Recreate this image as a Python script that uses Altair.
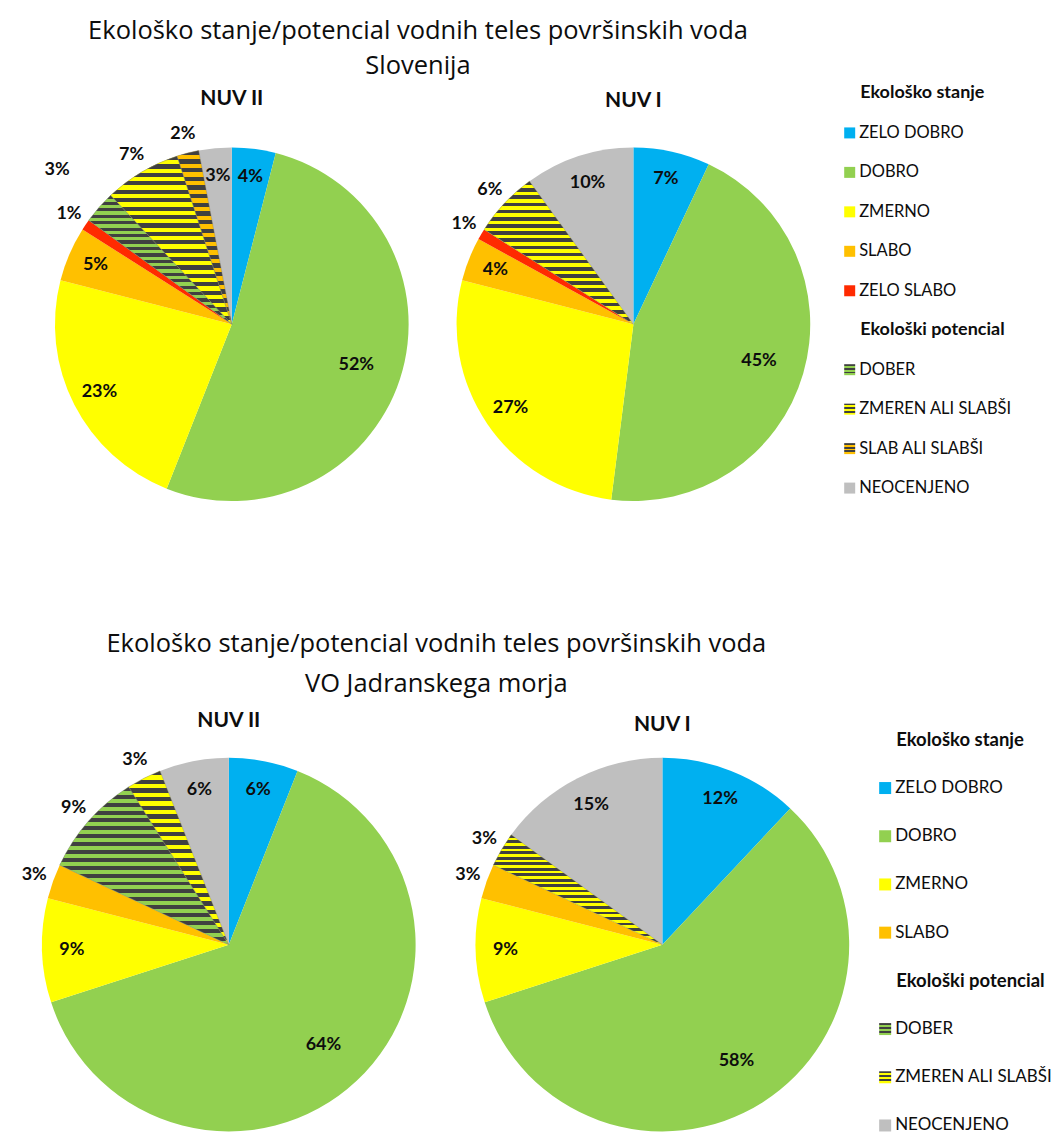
import altair as alt
import pandas as pd

# ---------------- data ----------------
categories = ["ZELO DOBRO", "DOBRO", "ZMERNO", "SLABO", "ZELO SLABO",
              "DOBER", "ZMEREN ALI SLABŠI", "SLAB ALI SLABŠI", "NEOCENJENO"]
slo_nuv2 = [4, 52, 23, 5, 1, 3, 7, 2, 3]
slo_nuv1 = [7, 45, 27, 4, 1, 0, 6, 0, 10]
jad_nuv2 = [6, 64, 9, 3, 0, 9, 3, 0, 6]
jad_nuv1 = [12, 58, 9, 3, 0, 0, 3, 0, 15]

title_main = "Ekološko stanje/potencial vodnih teles površinskih voda"
title_slo = "Slovenija"
title_jad = "VO Jadranskega morja"
pie_titles = ["NUV II", "NUV I"]

legend_head_1 = "Ekološko stanje"
legend_head_2 = "Ekološki potencial"
legend_slo_1 = ["ZELO DOBRO", "DOBRO", "ZMERNO", "SLABO", "ZELO SLABO"]
legend_slo_2 = ["DOBER", "ZMEREN ALI SLABŠI", "SLAB ALI SLABŠI", "NEOCENJENO"]
legend_jad_1 = ["ZELO DOBRO", "DOBRO", "ZMERNO", "SLABO"]
legend_jad_2 = ["DOBER", "ZMEREN ALI SLABŠI", "NEOCENJENO"]

# ---------------- style ----------------
colors = ["#00B0F0", "#92D050", "#FFFF00", "#FFC000", "#FF2A00",
          "#92D050", "#FFFF00", "#FFC000", "#BFBFBF"]
hatched = {"DOBER": "#92D050", "ZMEREN ALI SLABŠI": "#FFFF00", "SLAB ALI SLABŠI": "#FFC000"}
DARK = "#404040"
FONT = "Lato"
TFONT = "Open Sans"
TXT = "#0d0d0d"


def stripes(light, n):
    stops = []
    for i in range(n):
        a, m, b = i / n, (i + 0.5) / n, (i + 1) / n
        stops += [alt.GradientStop(offset=a, color=DARK), alt.GradientStop(offset=m, color=DARK),
                  alt.GradientStop(offset=m, color=light), alt.GradientStop(offset=b, color=light)]
    return alt.LinearGradient(gradient="linear", stops=stops, x1=0, x2=0, y1=0, y2=1)


def pie(values, R, title, width, height, t_offset):
    df = pd.DataFrame({"cat": categories, "value": values, "idx": list(range(len(categories)))})
    df = df[df["value"] > 0]
    total = float(df["value"].sum())
    tscale = alt.Scale(domain=[0, total])
    base = alt.Chart(df).encode(
        theta=alt.Theta("value:Q", stack=True, scale=tscale),
        order=alt.Order("idx:Q", sort="ascending"),
    )
    arcs = base.mark_arc(radius=R).encode(
        color=alt.Color("cat:N", scale=alt.Scale(domain=categories, range=colors), legend=None)
    )
    layers = [arcs]
    for k, c in hatched.items():
        if k in list(df["cat"]):
            layers.append(base.mark_arc(radius=R, fill=stripes(c, 20), stroke="#7f7f7f",
                                        strokeWidth=0.4).encode(
                opacity=alt.when(alt.datum.cat == k).then(alt.value(1)).otherwise(alt.value(0))
            ))
    outside = ("(indexof(['DOBER','ZMEREN ALI SLABŠI','SLAB ALI SLABŠI'], datum.cat) >= 0"
               " || datum.value < 3 || (datum.cat == 'SLABO' && datum.value <= 3))")
    lr = (f"{outside} ? ({R + 20} + (datum.cat == 'DOBER' && datum.value < 5 ? 36 : 0))"
          f" : (datum.value > 40 ? {0.74 * R} : {0.84 * R})")
    labels = alt.Chart(df).transform_window(
        cum="sum(value)", sort=[alt.SortField("idx", order="ascending")], frame=[None, 0]
    ).transform_calculate(
        mid="datum.cum - datum.value / 2", lr=lr, lbl="datum.value + '%'"
    ).mark_text(
        font=FONT, fontWeight="bold", fontSize=18, color=TXT
    ).encode(
        theta=alt.Theta("mid:Q", stack=False, scale=tscale),
        radius=alt.Radius("lr:Q", scale=None, stack=False),
        text="lbl:N",
    )
    layers.append(labels)
    return alt.layer(*layers).properties(
        width=width, height=height,
        title=alt.Title(title, font=FONT, fontWeight="bold", fontSize=21, color=TXT, offset=t_offset),
    )


def legend(items1, items2, width, height, y0, step, sw_x, tx_x, sw_size, fs, fs_head):
    rows = [(legend_head_1, "head")] + [(i, "item") for i in items1] + \
           [(legend_head_2, "head")] + [(i, "item") for i in items2]
    df = pd.DataFrame({"label": [r[0] for r in rows], "kind": [r[1] for r in rows],
                       "idx": list(range(len(rows)))})
    a = -y0 / step
    b = a + height / step
    y = alt.Y("idx:Q", axis=None, scale=alt.Scale(domain=[a, b], reverse=True, nice=False, zero=False))
    base = alt.Chart(df).encode(y=y)
    heads = base.transform_filter(alt.datum.kind == "head").mark_text(
        font=FONT, fontWeight="bold", fontSize=fs_head, align="left", color=TXT
    ).encode(x=alt.value(tx_x + 1), text="label:N")
    texts = base.transform_filter(alt.datum.kind == "item").mark_text(
        font=FONT, fontSize=fs, align="left", color=TXT
    ).encode(x=alt.value(tx_x), text="label:N")
    plain = base.transform_filter(
        "datum.kind == 'item' && indexof(['DOBER','ZMEREN ALI SLABŠI','SLAB ALI SLABŠI'], datum.label) < 0"
    ).mark_square(size=sw_size, opacity=1).encode(
        x=alt.value(sw_x),
        color=alt.Color("label:N", scale=alt.Scale(domain=categories, range=colors), legend=None),
    )
    layers = [heads, texts, plain]
    for k, c in hatched.items():
        if k in items2:
            layers.append(base.transform_filter(alt.datum.label == k).mark_square(
                size=sw_size, opacity=1, fill=stripes(c, 3)
            ).encode(x=alt.value(sw_x)))
    return alt.layer(*layers).properties(width=width, height=height)


# ---------------- top section (Slovenija) ----------------
top_row = alt.hconcat(
    pie(slo_nuv2, 177, pie_titles[0], 448, 394, 16),
    pie(slo_nuv1, 177, pie_titles[1], 356, 394, 16),
    legend(legend_slo_1, legend_slo_2, 200, 394, 91 - 125, 39.5, 38.5, 48, 121, 16.5, 18),
    spacing=0, bounds="flush",
    title=alt.Title([title_main, title_slo], font=TFONT, fontSize=25.5, fontWeight="normal",
                    color=TXT, lineHeight=35, anchor="middle", dx=-92, offset=5),
)

# ---------------- bottom section (Jadran) ----------------
bot_row = alt.hconcat(
    pie(jad_nuv2, 187, pie_titles[0], 442, 380, 20),
    pie(jad_nuv1, 187, pie_titles[1], 426, 380, 20),
    legend(legend_jad_1, legend_jad_2, 170, 380, 738 - 753, 48.25, 10, 20, 144, 17, 18.5),
    spacing=0, bounds="flush",
    title=alt.Title([title_main, title_jad], font=TFONT, fontSize=25.5, fontWeight="normal",
                    color=TXT, lineHeight=40, anchor="middle", dx=-94, offset=13),
)

chart = alt.vconcat(top_row, bot_row, spacing=111).properties(
    padding={"left": 0, "top": 10, "right": 0, "bottom": 0}
).configure_view(strokeWidth=0, stroke="transparent")

chart.save("out.html", embed_options={"renderer": "svg", "actions": False})
